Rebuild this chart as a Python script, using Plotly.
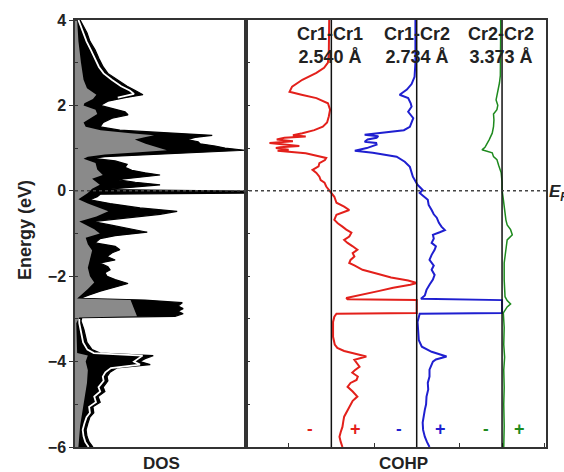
import plotly.graph_objects as go
from plotly.subplots import make_subplots

# ---------------- DATA ----------------
# DOS (outer envelope, black filled)
dos_outer_e = [4.0,3.85,3.7,3.5,3.3,3.1,2.9,2.75,2.6,2.45,2.35,2.25,2.18,2.1,2.0,1.92,1.85,1.78,1.7,1.6,1.5,1.42,1.36,1.3,1.25,1.2,1.15,1.1,1.05,1.0,0.95,0.9,0.85,0.8,0.76,0.7,0.62,0.55,0.48,0.42,0.37,0.32,0.26,0.2,0.14,0.08,0.03,-0.01,-0.05,-0.08,-0.14,-0.21,-0.3,-0.4,-0.48,-0.55,-0.62,-0.72,-0.8,-0.9,-0.97,-1.05,-1.12,-1.22,-1.3,-1.38,-1.45,-1.54,-1.62,-1.69,-1.78,-1.85,-1.92,-2.0,-2.08,-2.17,-2.25,-2.35,-2.45,-2.52,-2.56,-2.62,-2.7,-2.76,-2.82,-2.88,-2.94,-2.97,-3.05,-3.25,-3.55,-3.72,-3.8,-3.86,-3.93,-4.0,-4.07,-4.15,-4.25,-4.35,-4.45,-4.6,-4.7,-4.82,-4.95,-5.06,-5.2,-5.3,-5.45,-5.6,-5.75,-5.88,-6.0]
dos_outer = [0.12,0.21,0.28,0.35,0.47,0.56,0.66,0.77,0.98,1.22,1.41,1.59,1.17,0.77,0.59,0.94,1.17,1.24,0.87,0.66,0.59,1.05,2.22,3.21,2.81,2.62,2.88,2.93,3.28,3.51,3.98,2.93,1.76,0.70,0.42,0.94,1.22,1.17,1.33,1.64,1.99,1.52,0.98,1.41,1.99,1.29,0.70,4.3,4.3,0.59,0.52,0.35,0.82,1.52,2.39,1.99,1.29,0.42,0.82,1.29,1.69,0.94,0.59,0.47,0.94,1.05,0.87,0.75,0.94,0.59,0.77,0.82,0.70,0.75,0.94,1.24,0.94,0.59,0.30,0.12,1.64,2.51,2.41,2.53,2.41,2.53,2.34,0.16,0.14,0.21,0.28,0.40,0.59,1.83,1.64,1.52,1.76,0.98,0.82,0.75,0.77,0.66,0.70,0.54,0.59,0.42,0.44,0.35,0.30,0.26,0.28,0.33,0.42]

# DOS (inner, gray filled)
dos_inner_e = [4.0,3.5,3.0,2.6,2.4,2.25,2.15,2.05,2.0,1.9,1.8,1.7,1.6,1.5,1.42,1.35,1.3,1.25,1.2,1.1,1.0,0.95,0.9,0.85,0.8,0.75,0.65,0.5,0.37,0.28,0.14,0.05,-0.05,-0.2,-0.3,-0.48,-0.6,-0.72,-0.9,-1.0,-1.1,-1.25,-1.4,-1.6,-1.8,-2.0,-2.15,-2.3,-2.45,-2.52,-2.56,-2.94,-2.97,-3.1,-3.8,-3.86,-4.0,-4.2,-4.5,-5.0,-5.5,-6.0]
dos_inner = [0.05,0.08,0.14,0.20,0.28,0.50,0.42,0.22,0.20,0.48,0.52,0.35,0.20,0.25,0.60,1.30,1.85,1.60,1.40,1.65,1.95,2.15,1.50,0.70,0.30,0.20,0.48,0.52,0.65,0.40,0.58,0.40,0.30,0.08,0.30,0.78,0.50,0.10,0.45,0.58,0.25,0.30,0.40,0.35,0.30,0.35,0.45,0.30,0.12,0.05,1.30,1.45,0.10,0.03,0.05,0.30,0.25,0.30,0.28,0.20,0.12,0.08]

# DOS (second component, white line) - upper and lower parts
dos_white_hi_e = [4.0,3.7,3.5,3.3,3.1,2.9,2.75,2.6,2.45,2.35,2.27,2.22,2.18]
dos_white_hi = [0.08,0.20,0.27,0.37,0.46,0.56,0.67,0.86,1.08,1.28,1.38,1.20,1.00]
dos_white_lo_e = [-3.0,-3.1,-3.3,-3.55,-3.72,-3.8,-3.86,-3.93,-4.0,-4.07,-4.15,-4.25,-4.35,-4.45,-4.6,-4.7,-4.82,-4.95,-5.06,-5.2,-5.3,-5.45,-5.6,-5.75,-5.88,-6.0]
dos_white_lo = [0.10,0.10,0.14,0.19,0.29,0.44,1.58,1.48,1.38,1.52,0.84,0.71,0.65,0.67,0.55,0.59,0.45,0.49,0.33,0.35,0.27,0.22,0.18,0.20,0.24,0.32]

# -COHP curves (energy, value)
red_e = [4.0,3.5,3.2,3.0,2.88,2.76,2.6,2.44,2.32,2.25,2.17,2.05,1.9,1.74,1.6,1.5,1.42,1.35,1.3,1.27,1.24,1.2,1.16,1.12,1.08,1.05,1.02,1.0,0.96,0.94,0.88,0.8,0.77,0.72,0.65,0.57,0.49,0.42,0.33,0.25,0.19,0.1,0.02,-0.05,-0.14,-0.28,-0.37,-0.45,-0.5,-0.56,-0.68,-0.76,-0.84,-0.91,-0.98,-1.07,-1.15,-1.22,-1.3,-1.38,-1.46,-1.54,-1.62,-1.69,-1.75,-1.85,-1.95,-2.03,-2.1,-2.16,-2.2,-2.27,-2.35,-2.45,-2.51,-2.54,-2.56,-2.86,-2.88,-2.95,-3.07,-3.42,-3.6,-3.68,-3.75,-3.8,-3.88,-3.96,-4.05,-4.12,-4.2,-4.26,-4.35,-4.43,-4.5,-4.59,-4.7,-4.82,-4.92,-5.06,-5.18,-5.29,-5.4,-5.53,-5.65,-5.76,-5.88,-6.0]
red_v = [-0.05,-0.05,-0.06,-0.08,-0.17,-0.35,-0.68,-0.92,-0.98,-0.70,-0.35,-0.08,-0.03,-0.06,-0.10,-0.20,-0.40,-0.68,-0.90,-0.60,-1.10,-1.28,-0.90,-1.45,-1.00,-0.75,-1.20,-1.30,-1.00,-1.26,-0.60,-0.24,-0.12,-0.15,-0.28,-0.30,-0.44,-0.35,-0.28,-0.25,-0.16,-0.12,-0.05,0.00,0.07,0.12,0.30,0.42,0.30,0.12,0.07,0.15,0.26,0.35,0.47,0.42,0.30,0.38,0.50,0.61,0.50,0.54,0.45,0.42,0.55,0.73,1.10,1.40,1.80,2.00,1.85,1.45,1.10,0.60,0.35,0.38,2.00,2.00,0.12,0.07,0.04,0.04,0.08,0.14,0.30,0.49,0.82,0.54,0.60,0.66,0.55,0.49,0.62,0.59,0.45,0.38,0.50,0.61,0.50,0.42,0.35,0.30,0.28,0.26,0.22,0.19,0.22,0.26]

blue_e = [4.0,3.0,2.67,2.5,2.37,2.25,2.17,2.05,1.97,1.85,1.7,1.5,1.42,1.38,1.31,1.28,1.24,1.2,1.15,1.12,1.08,1.0,0.94,0.89,0.8,0.68,0.56,0.33,0.14,0.02,-0.05,-0.21,-0.33,-0.45,-0.55,-0.63,-0.75,-0.84,-0.92,-0.97,-1.03,-1.12,-1.22,-1.3,-1.38,-1.5,-1.62,-1.75,-1.85,-1.97,-2.08,-2.2,-2.32,-2.45,-2.53,-2.56,-2.86,-2.88,-3.07,-3.5,-3.65,-3.77,-3.88,-3.95,-4.0,-4.19,-4.35,-4.5,-4.65,-4.82,-5.0,-5.13,-5.3,-5.43,-5.6,-5.76,-5.88,-6.0]
blue_v = [-0.03,-0.03,-0.05,-0.12,-0.23,-0.40,-0.20,-0.14,-0.12,-0.20,-0.08,-0.16,-0.30,-0.63,-1.22,-0.90,-0.94,-1.15,-1.22,-0.95,-0.94,-1.17,-1.45,-1.03,-0.47,-0.28,-0.16,-0.09,0.02,0.14,0.07,0.26,0.28,0.35,0.40,0.47,0.52,0.58,0.66,0.54,0.38,0.40,0.35,0.45,0.42,0.35,0.30,0.40,0.35,0.42,0.38,0.30,0.23,0.19,0.10,2.00,2.00,0.07,0.02,0.05,0.12,0.35,0.70,0.45,0.38,0.30,0.30,0.26,0.27,0.23,0.22,0.19,0.16,0.14,0.15,0.19,0.24,0.30]

green_e = [4.0,3.0,2.7,2.53,2.3,2.13,2.0,1.9,1.8,1.66,1.5,1.35,1.2,1.12,1.02,0.96,0.89,0.8,0.73,0.6,0.42,0.2,0.02,-0.2,-0.37,-0.55,-0.68,-0.8,-0.91,-1.03,-1.15,-1.38,-1.69,-2.08,-2.3,-2.48,-2.57,-2.65,-2.72,-2.86,-3.2,-3.6,-3.9,-4.2,-4.6,-5.0,-5.5,-6.0]
green_v = [-0.03,-0.03,-0.04,-0.06,-0.10,-0.14,-0.10,-0.12,-0.20,-0.19,-0.20,-0.23,-0.30,-0.35,-0.40,-0.47,-0.23,-0.20,-0.12,-0.08,-0.02,0.00,0.00,0.03,0.05,0.06,0.09,0.12,0.20,0.24,0.12,0.09,0.05,0.05,0.06,0.07,0.12,0.20,0.12,0.03,0.05,0.04,0.06,0.04,0.05,0.04,0.05,0.04]

bond_names = ["Cr1-Cr1", "Cr1-Cr2", "Cr2-Cr2"]
bond_lengths = ["2.540 Å", "2.734 Å", "3.373 Å"]

# ---------------- STYLE ----------------
offsets = [2, 4, 6]
colors = ["#e3201b", "#1f1fd0", "#1e8a1e"]
widths = [2, 2, 1.5]
FONT = "Liberation Sans"
FRAME = "#333333"

fig = make_subplots(rows=1, cols=2, shared_yaxes=False, horizontal_spacing=0,
                    column_widths=[171, 300])

# DOS
fig.add_trace(go.Scatter(x=dos_outer, y=dos_outer_e, mode="lines", fill="tozerox",
                         fillcolor="black", line=dict(color="black", width=1.2),
                         showlegend=False, hoverinfo="skip"), row=1, col=1)
fig.add_trace(go.Scatter(x=dos_inner, y=dos_inner_e, mode="lines", fill="tozerox",
                         fillcolor="#8a8a8a", line=dict(color="#8a8a8a", width=0),
                         showlegend=False, hoverinfo="skip"), row=1, col=1)
for xs, ys in [(dos_white_hi, dos_white_hi_e), (dos_white_lo, dos_white_lo_e)]:
    fig.add_trace(go.Scatter(x=xs, y=ys, mode="lines",
                             line=dict(color="white", width=1.8),
                             showlegend=False, hoverinfo="skip"), row=1, col=1)

# COHP
for (es, vs), off, col, w in zip([(red_e, red_v), (blue_e, blue_v), (green_e, green_v)],
                                 offsets, colors, widths):
    fig.add_trace(go.Scatter(x=[off + v for v in vs], y=es, mode="lines",
                             line=dict(color=col, width=w),
                             showlegend=False, hoverinfo="skip"), row=1, col=2)

tickfont = dict(family=FONT, size=16, color="#222", weight="bold")

fig.update_xaxes(row=1, col=1, range=[0, 4], showline=True, mirror=True, linecolor=FRAME,
                 linewidth=1.5, showticklabels=False, ticks="", showgrid=False, zeroline=False)
fig.update_xaxes(row=1, col=2, range=[0, 7.03], showline=True, mirror=True, linecolor=FRAME,
                 linewidth=1.5, showticklabels=False, ticks="inside", tick0=0, dtick=1,
                 ticklen=4, tickcolor=FRAME, showgrid=False, zeroline=False)
fig.update_yaxes(row=1, col=1, range=[-6, 4], showline=True, mirror=True, linecolor=FRAME,
                 linewidth=1.5, ticks="outside", tick0=-6, dtick=2, ticklen=4, tickcolor=FRAME,
                 tickfont=tickfont, showgrid=False, zeroline=False,
                 minor=dict(ticks="inside", dtick=1, ticklen=3, tickcolor=FRAME, showgrid=False))
fig.update_yaxes(row=1, col=2, range=[-6, 4], showline=True, mirror=True, linecolor=FRAME,
                 linewidth=1.5, ticks="inside", tick0=0, dtick=1, ticklen=4, tickcolor=FRAME,
                 showticklabels=False, showgrid=False, zeroline=False)

# zero lines of COHP
for off in offsets:
    fig.add_shape(type="line", xref="x2", yref="y2 domain", x0=off, x1=off, y0=0, y1=1,
                  line=dict(color="#111", width=1.5), layer="above")
# Fermi level
fig.add_shape(type="line", xref="paper", yref="y", x0=0, x1=1, y0=0, y1=0,
              line=dict(color="#444", width=1.5, dash="3px,3px"), layer="above")

ann = []
def px2x(px):
    return (px - 75) / 471.0
def py2y(py):
    return (447 - py) / 427.0

ann.append(dict(text="<b>Energy (eV)</b>", x=px2x(25), y=py2y(230), textangle=-90,
                font=dict(family=FONT, size=18, color="#222")))
ann.append(dict(text="<b>DOS</b>", x=px2x(161), y=py2y(463),
                font=dict(family=FONT, size=17, color="#222")))
ann.append(dict(text="<b>COHP</b>", x=px2x(403), y=py2y(463),
                font=dict(family=FONT, size=17, color="#222")))
for cx, nm, bl in zip([330, 417, 501], bond_names, bond_lengths):
    ann.append(dict(text=f"<b>{nm}</b><br><b>{bl}</b>", x=px2x(cx), y=py2y(46),
                    font=dict(family=FONT, size=18, color="#222")))
for (xm, xp), col in zip([(310, 355), (399, 440), (486, 519)], colors):
    ann.append(dict(text="<b>-</b>", x=px2x(xm), y=py2y(428),
                    font=dict(family=FONT, size=17, color=col)))
    ann.append(dict(text="<b>+</b>", x=px2x(xp), y=py2y(429),
                    font=dict(family=FONT, size=18, color=col)))
ann.append(dict(text="<b><i>E<sub>F</sub></i></b>", x=px2x(547), y=py2y(193), xanchor="left",
                font=dict(family=FONT, size=17, color="#222")))
for a in ann:
    a.setdefault("xanchor", "center")
    a.update(xref="paper", yref="paper", showarrow=False, yanchor="middle")
fig.update_layout(annotations=ann)

fig.update_layout(width=564, height=472, margin=dict(l=75, r=18, t=20, b=25),
                  paper_bgcolor="white", plot_bgcolor="white", showlegend=False)

fig.write_html("out.html", config={"displayModeBar": False},
               post_script="document.body.style.margin='0px';document.body.style.overflow='hidden';")
